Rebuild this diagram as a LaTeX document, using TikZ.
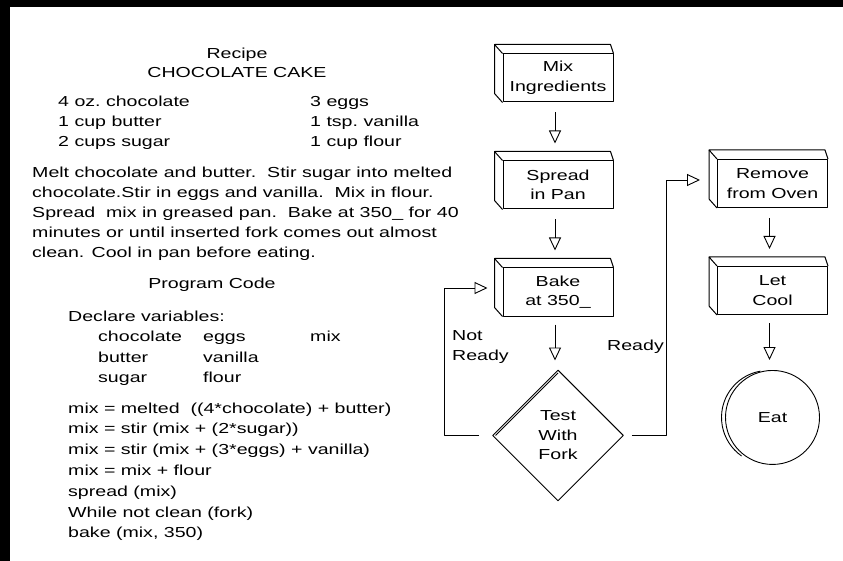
\documentclass[tikz,border=0pt]{standalone}
\usepackage{fontspec}
\setmainfont{Liberation Sans}[FakeStretch=1.35]
\usetikzlibrary{positioning,shapes.geometric,arrows.meta,calc}

\tikzset{
  stepbox/.style={draw, line width=1pt, minimum width=110pt, minimum height=48pt,
    align=center, inner sep=1pt},
  flow/.style={draw, line width=0.9pt, -{Triangle[open, length=13pt, width=12pt]}},
  txt/.style={anchor=base west, inner sep=0pt},
}

\begin{document}
\begin{tikzpicture}[x=1pt, y=-1pt, font=\fontsize{14.5}{19.5}\selectfont, line join=round]

	\useasboundingbox (0,0) rectangle (843,561);
	\fill[white] (0,0) rectangle (843,561);

	% dark edge of the scan
	\fill[black] (0,0) rectangle (843,7);
	\fill[black] (0,0) rectangle (10,561);

	% recipe
	\node (recipe) at (237,55) {Recipe};
	\node (cake) at (237,73) {CHOCOLATE CAKE};
	\foreach \t [count=\i] in {4 oz.\ chocolate, 1 cup butter, 2 cups sugar}
		\node[txt] (inga\i) at (58,87+20*\i) {\t};
	\foreach \t [count=\i] in {3 eggs, 1 tsp.\ vanilla, 1 cup flour}
		\node[txt] (ingb\i) at (310,87+20*\i) {\t};
	\foreach \t [count=\i] in {%
		Melt chocolate and butter.\ \ Stir sugar into melted,
		chocolate.Stir in eggs and vanilla.\ \ Mix in flour.,
		Spread\ \ mix in greased pan.\ \ Bake at 350\_ for 40,
		minutes or until inserted fork comes out almost,
		clean. Cool in pan before eating.}
		\node[txt] (para\i) at (32,158+20*\i) {\t};

	% program code
	\node (prog) at (212,285) {Program Code};
	\node[txt] (declare) at (68,321) {Declare variables:};
	\foreach \t [count=\i] in {chocolate, butter, sugar}
		\node[txt] (vara\i) at (98,321+20.5*\i) {\t};
	\foreach \t [count=\i] in {eggs, vanilla, flour}
		\node[txt] (varb\i) at (203,321+20.5*\i) {\t};
	\node[txt] (varc1) at (310,341.5) {mix};
	\foreach \t [count=\i] in {%
		mix = melted\ \ ((4*chocolate) + butter),
		mix = stir (mix + (2*sugar)),
		mix = stir (mix + (3*eggs) + vanilla),
		mix = mix + flour,
		spread (mix),
		While not clean (fork),
		{bake (mix, 350)}}
		\node[txt] (code\i) at (68,392.2+20.8*\i) {\t};

	% flow chart, left column
	\node[stepbox] (mix) at (558,78) {Mix\\Ingredients};
	\node[stepbox, below=58pt of mix] (spread) {Spread\\in Pan};
	\node[stepbox, below=58pt of spread] (bake) {Bake\\at 350\_};
	\node[diamond, draw, line width=0.9pt, aspect=1, minimum size=131pt, inner sep=0pt,
		align=center, below=53pt of bake] (test) {Test\\With\\Fork};

	% right column
	\node[stepbox] (remove) at (772.5,183.5) {Remove\\from Oven};
	\node[stepbox, below=58pt of remove] (cool) {Let\\Cool};
	\node[circle, draw, line width=0.9pt, minimum size=94pt, below=55pt of cool] (eat) {Eat};

	% box depth
	\foreach \n in {mix,spread,bake,remove,cool} {
		\draw[line width=1pt] (\n.north west) -- ++(-8,-9) -- ($(\n.north east)+(-3,-9)$) -- (\n.north east);
		\draw[line width=1pt] (\n.north west) ++(-8,-9) -- ($(\n.south west)+(-8,-9)$) -- (\n.south west);
	}
	\draw[line width=0.9pt] ($(test.west)+(3.5,0)$) -- ($(test.north)+(0,3.5)$);
	\draw[line width=0.9pt] ([xshift=-4pt]eat.center) ++(100:47pt) arc[start angle=100, end angle=235, radius=47pt];

	% steps
	\draw[flow, shorten <=10pt, shorten >=17pt] ([xshift=-3pt]mix.south) -- ([xshift=-3pt]spread.north);
	\draw[flow, shorten <=10pt, shorten >=17pt] ([xshift=-3pt]spread.south) -- ([xshift=-3pt]bake.north);
	\draw[flow, shorten <=8pt, shorten >=9pt] ([xshift=-3pt]bake.south) -- ([xshift=-3pt]test.north);
	\draw[flow, shorten <=10pt, shorten >=17pt] ([xshift=-3pt]remove.south) -- ([xshift=-3pt]cool.north);
	\draw[flow, shorten <=8pt, shorten >=10pt] ([xshift=-3pt]cool.south) -- ([xshift=-3pt]eat.north);

	% loop back and exit
	\draw[flow, shorten <=13pt, shorten >=15pt] (test.west) -- ++(-48,0) |- ([yshift=4pt]bake.west);
	\draw[flow, shorten <=8pt, shorten >=17pt] (test.east) -- ++(42,0) |- ([yshift=3.5pt]remove.west);
	\node[align=left, anchor=west, inner sep=0pt] (notready) at (452,347) {Not\\Ready};
	\node[anchor=east, inner sep=0pt] (ready) at (664,347) {Ready};

\end{tikzpicture}
\end{document}
